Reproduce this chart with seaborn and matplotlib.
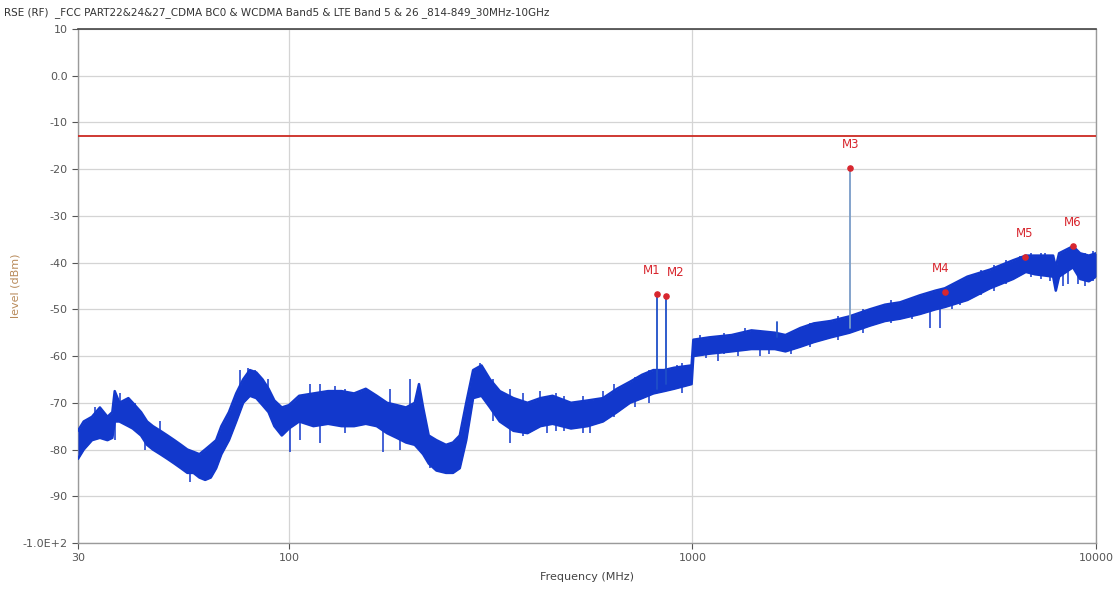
import numpy as np
import pandas as pd
import matplotlib
matplotlib.use("Agg")
import matplotlib.pyplot as plt
import seaborn as sns

# trace: lower and upper edge of the noise (dBm)
freq_mhz = [30, 31, 32.5, 34, 35.5, 36.5, 37, 38, 40, 41, 43, 44.5, 46, 48, 50, 52,
            54, 56, 58, 60, 62, 64, 66, 68, 71, 74, 77, 80, 83, 86, 89, 92, 96, 100,
            106, 115, 125, 135, 145, 155, 165, 175, 185, 195, 205, 210, 215, 222, 232,
            245, 255, 265, 275, 286, 300, 315, 333, 360, 390, 420, 450, 500, 550, 600,
            650, 700, 750, 800, 850, 900, 995, 1005, 1100, 1250, 1400, 1600, 1700,
            1850, 2000, 2200, 2450, 2750, 3000, 3270, 3660, 4000, 4220, 4800, 5460,
            6230, 6700, 7060, 7830, 7950, 8100, 8770, 9130, 9600, 10000]
level_lo = [-82, -80, -78, -77.5, -78, -77.5, -74, -74, -75, -75.5, -77, -79, -80, -81,
            -82, -83, -84, -85, -85, -86, -86.5, -86, -84, -81, -78, -74, -70, -68.5,
            -69, -70.5, -72, -75, -77, -75.5, -74, -75, -74.5, -75, -75, -74.5, -75,
            -76.5, -77.5, -78.5, -79, -80, -81, -83, -84.5, -85, -85, -84, -78, -69,
            -68.5, -71, -74, -76, -76.5, -75, -74.5, -75.5, -75, -74, -72, -70, -69,
            -68, -67.5, -67, -66, -60, -59.5, -59, -58.5, -58.5, -59, -58, -57, -56,
            -55, -53.5, -52.5, -52, -51, -50, -49.5, -48, -45.5, -43.5, -42, -42.5,
            -43, -46, -43, -41, -43.5, -44, -43]
level_hi = [-76, -74, -73, -71, -73, -72, -67.5, -70, -69, -70, -72, -74, -75, -76,
            -77, -78, -79, -80, -80.5, -81, -80, -79, -78, -75, -72, -68, -65, -63,
            -63.5, -65, -67, -69.5, -71, -70.5, -68.5, -68, -67.5, -67.5, -68, -67,
            -68.5, -70, -70.5, -71, -70, -66, -71, -77, -78, -79, -78.5, -77, -70,
            -63, -62, -65, -67.5, -69, -70, -69, -68.5, -70, -69.5, -69, -67, -65.5,
            -64, -63, -63, -62.5, -62, -56.5, -56, -55.5, -54.5, -55, -55.5, -54, -53,
            -52.5, -51.5, -50, -49, -48.5, -47, -46, -45.5, -43, -41.5, -39.5, -38.5,
            -38.5, -38.5, -41, -38, -36.5, -38, -38.5, -38]

# narrow noise spikes poking out of the band
spike_freq = [30.4, 33.1, 37.1, 38.1, 39.9, 41.5, 44.0, 47.9, 50.2, 56.9, 61.9, 75.6,
              79.1, 82.4, 88.7, 100.6, 106.5, 112.7, 119.4, 130, 137.7, 171, 178,
              188.5, 199.5, 223.6, 297.6, 303, 320, 353, 380, 419, 436, 460, 480, 535,
              557, 600, 640, 688, 720, 780, 916, 940,
              1044, 1080, 1157, 1200, 1300, 1350, 1470, 1550, 1750, 1950, 2071, 2300,
              2601, 2650, 2916, 3100, 3363, 3500, 3879, 4106, 4400, 4600, 5016, 5200,
              5600, 5784, 6000, 6483, 6900, 7300, 7475, 7700, 8300, 8500, 9000, 9400,
              9666, 9850]
spike_lo = [-81, -76, -78, -72, -72, -73, -80, -77, -82, -87, -86.5, -68, -67, -67,
            -70, -80.5, -78, -72, -78.5, -72, -76.5, -80.5, -71, -80, -72, -84, -66,
            -66, -74, -78.5, -77, -72, -76.5, -76, -76, -76.5, -76.5, -72, -73, -69,
            -71, -70, -65, -68,
            -58, -60.5, -61, -59.5, -60, -57, -60, -59.5, -59.5, -58, -56, -56.5,
            -54, -55, -52, -53, -51, -52, -54, -54, -50, -49, -45, -47,
            -46, -43, -44.5, -41, -43, -43.5, -41, -44, -45, -44.5, -44.5, -45,
            -42, -44]
spike_hi = [-76, -71, -72, -68, -69, -70, -75, -74, -78, -82, -82, -63, -62.5, -63,
            -65, -74, -72, -66, -66, -66.5, -67, -74, -67, -75, -65, -79, -61.5, -63,
            -65, -67, -68, -67.5, -72, -68, -68.5, -68.5, -71, -67.5, -66, -66.5,
            -64.5, -63, -62, -61.5,
            -55.5, -56, -57, -55, -55.5, -54, -54.5, -55.5, -55, -53, -53.5, -51.5,
            -51.5, -50, -50, -48, -49, -47.5, -46.5, -47, -44.5, -44, -43, -41.5,
            -40.5, -41.5, -39.5, -38.5, -38, -38, -38, -38.5, -38, -37.5, -37.5, -38,
            -38.5, -37.5]

# single spurs sticking out of the noise
spur_freq = [817, 862, 1620, 2460]
spur_base = [-67, -66, -56, -54]
spur_top = [-46.7, -47.1, -52.7, -19.7]

marker_names = ["M1", "M2", "M3", "M4", "M5", "M6"]
marker_freq = [817, 862, 2460, 4224, 6670, 8770]
marker_level = [-46.7, -47.1, -19.7, -46.3, -38.8, -36.4]

limit_dbm = -13
y_ticks = [10, 0, -10, -20, -30, -40, -50, -60, -70, -80, -90, -100]
y_tick_labels = ["10", "0.0", "-10", "-20", "-30", "-40", "-50", "-60", "-70",
                 "-80", "-90", "-1.0E+2"]
x_ticks = [30, 100, 1000, 10000]

sns.set_style("white")
plt.rcParams["font.family"] = ["DejaVu Sans"]

df = pd.DataFrame({"freq": freq_mhz, "lo": level_lo, "hi": level_hi})

fig = plt.figure(figsize=(11.17, 5.9), dpi=100)
ax = fig.add_axes([0.0698, 0.0797, 0.9114, 0.8712])

trace = "#1238cc"
ax.fill_between(df["freq"], df["lo"], df["hi"], color=trace, lw=0, zorder=3)
sns.lineplot(data=df, x="freq", y="hi", color=trace, lw=1.8, estimator=None,
             sort=False, ax=ax, zorder=3)
sns.lineplot(data=df, x="freq", y="lo", color=trace, lw=1.8, estimator=None,
             sort=False, ax=ax, zorder=3)
ax.vlines(spike_freq, spike_lo, spike_hi, color=trace, lw=1.1, zorder=3)

stem_colors = ["#1f4fc8", "#1f4fc8", "#1f4fc8", "#7a9cc8"]
for f, b, t, c in zip(spur_freq, spur_base, spur_top, stem_colors):
    ax.plot([f, f], [b, t], color=c, lw=1.3, zorder=4)

ax.axhline(limit_dbm, color="#cc2a22", lw=1.3, zorder=5)

ax.scatter(marker_freq, marker_level, s=14, color="#d8262e", zorder=6)
label_dx = [-4, 7, 0, -3, 0, 0]
for name, f, v, dx in zip(marker_names, marker_freq, marker_level, label_dx):
    ax.annotate(name, (f, v), xytext=(dx, 12), textcoords="offset points",
                ha="center", va="bottom", color="#d8262e", fontsize=8.5)

ax.set_xscale("log")
ax.set_xlim(30, 10000)
ax.set_ylim(-100, 10)
ax.set_xticks(x_ticks)
ax.set_xticklabels([str(t) for t in x_ticks])
ax.xaxis.set_minor_locator(matplotlib.ticker.NullLocator())
ax.set_yticks(y_ticks)
ax.set_yticklabels(y_tick_labels)
ax.tick_params(axis="both", labelsize=8, colors="#555555", length=4, width=0.8,
               direction="out", left=True, bottom=True)
ax.grid(True, color="#d4d4d4", lw=0.9)
ax.set_axisbelow(True)

for side in ["left", "bottom", "right"]:
    ax.spines[side].set_color("#9a9a9a")
    ax.spines[side].set_linewidth(1.0)
ax.spines["top"].set_color("#444444")
ax.spines["top"].set_linewidth(1.2)

ax.set_xlabel("Frequency (MHz)", fontsize=8, color="#444444", labelpad=6)
ax.set_ylabel("level (dBm)", fontsize=8, color="#b88a5a")
ax.yaxis.set_label_coords(-0.056, 0.5)

fig.text(0.004, 0.979, "RSE (RF)  _FCC PART22&24&27_CDMA BC0 & WCDMA Band5 & LTE Band 5 & 26 _814-849_30MHz-10GHz",
         fontsize=7.5, color="#333333", ha="left", va="center")

fig.savefig("out.png", dpi=100)
